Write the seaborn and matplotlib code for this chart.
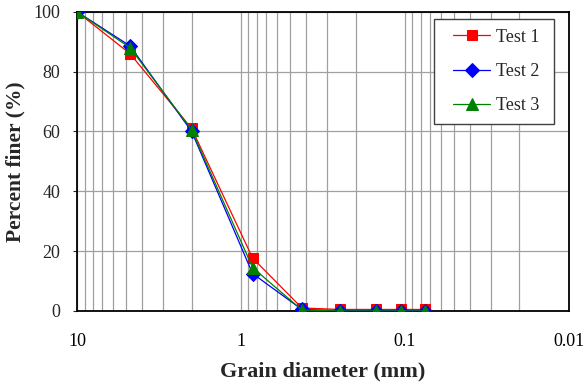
import numpy as np
import pandas as pd
import matplotlib
matplotlib.use("Agg")
import matplotlib.pyplot as plt
import seaborn as sns
from matplotlib.ticker import LogLocator, NullFormatter
from matplotlib.patches import Rectangle

sizes = [10, 4.75, 2.0, 0.85, 0.425, 0.25, 0.15, 0.106, 0.075]
test1 = [100, 86, 61, 17.7, 1.0, 0.5, 0.5, 0.5, 0.5]
test2 = [100, 88.6, 60, 12.5, 0.5, 0.1, 0.1, 0.1, 0.1]
test3 = [100, 88, 60.5, 14.5, 0.3, 0.0, 0.0, 0.0, 0.0]
series_names = ["Test 1", "Test 2", "Test 3"]
x_ticks = [10, 1, 0.1, 0.01]
x_tick_labels = ["10", "1", "0.1", "0.01"]
y_ticks = [0, 20, 40, 60, 80, 100]

sns.set_style("white")
plt.rcParams['font.family'] = ['Liberation Serif', 'DejaVu Serif']

fig = plt.figure(figsize=(5.84, 3.82), dpi=100)
ax = fig.add_axes([0.132, 0.186, 0.842, 0.783])

colors = ["#ff0000", "#0000ff", "#008000"]
markers = ["s", "D", "^"]
msizes = [7, 7, 9]
for name, vals, c, m, ms in zip(series_names, [test1, test2, test3], colors, markers, msizes):
    df = pd.DataFrame({"size": sizes, "pct": vals})
    sns.lineplot(data=df, x="size", y="pct", ax=ax, color=c, marker=m,
                 markersize=ms, markeredgecolor=c, linewidth=0.9, label=name,
                 estimator=None, sort=False, zorder=3)

ax.set_xscale("log")
ax.set_xlim(10, 0.01)
ax.set_ylim(0, 100)
ax.set_xticks(x_ticks)
ax.set_xticklabels(x_tick_labels)
ax.xaxis.set_minor_locator(LogLocator(base=10, subs=np.arange(2, 10)))
ax.xaxis.set_minor_formatter(NullFormatter())
ax.set_yticks(y_ticks)

ax.grid(True, which="major", axis="both", color="#a0a0a0", linewidth=0.9)
ax.grid(True, which="minor", axis="x", color="#a0a0a0", linewidth=0.9)
ax.set_axisbelow(True)

for s in ax.spines.values():
    s.set_color("black")
    s.set_linewidth(1.3)

ax.tick_params(axis="x", which="major", direction="in", length=5, labelsize=13, pad=16, colors="black")
ax.tick_params(axis="x", which="minor", length=0)
ax.tick_params(axis="y", which="major", direction="out", length=3, labelsize=13, pad=9, left=True)

ax.set_xlabel("Grain diameter (mm)", fontsize=16, fontweight="bold", labelpad=8)
ax.set_ylabel("Percent finer (%)", fontsize=15.5, fontweight="bold", labelpad=6)

# legend right edge anchored slightly inside, frame drawn wider on the left
leg = ax.legend(loc="upper right", bbox_to_anchor=(0.9614, 0.9766), borderaxespad=0,
                fontsize=13, frameon=False,
                labelspacing=0.95, borderpad=0.55, handlelength=2.05, handletextpad=0.35)
leg.set_zorder(6)

fig.canvas.draw()
bb = leg.get_window_extent(fig.canvas.get_renderer())
inv = ax.transAxes.inverted()
(x0, y0) = inv.transform((bb.x0 - 9, bb.y0))
(x1, y1) = inv.transform((bb.x1 + 4, bb.y1))
frame = Rectangle((x0, y0), x1 - x0, y1 - y0, transform=ax.transAxes,
                  facecolor="white", edgecolor="#404040", linewidth=1.0, zorder=5,
                  clip_on=False)
ax.add_patch(frame)

fig.savefig("out.png", dpi=100)
